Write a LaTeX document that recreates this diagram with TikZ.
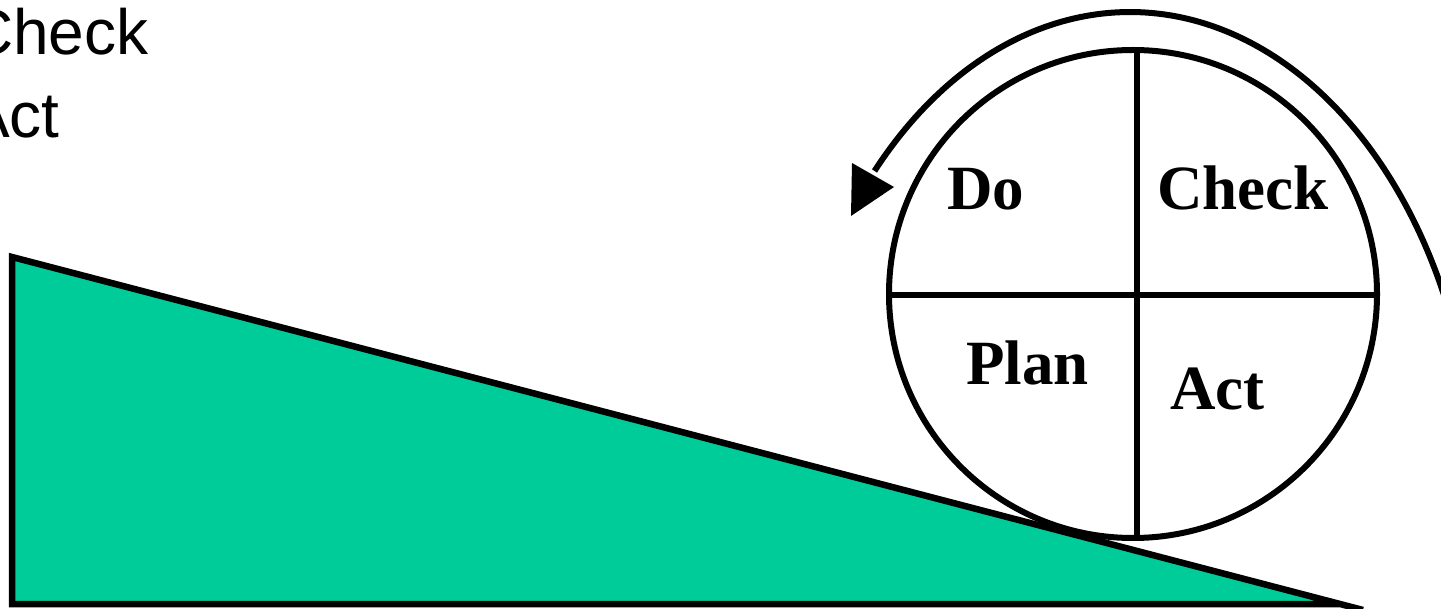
\documentclass[tikz,border=0pt]{standalone}
\usepackage{fontspec}
\setmainfont{Liberation Serif}
\newfontfamily\arialf{Liberation Sans}
\definecolor{pdcagreen}{HTML}{00CC99}
\tikzset{
  listtext/.style={anchor=base west, inner sep=0pt, font=\arialf\fontsize{64}{64}\selectfont},
  wheeltext/.style={anchor=base west, inner sep=0pt, font=\bfseries\fontsize{63}{63}\selectfont},
  outline/.style={line width=6.5pt, line join=miter},
  wheelline/.style={line width=6pt}
}
\begin{document}
\begin{tikzpicture}[x=1pt,y=-1pt]
\useasboundingbox (0,0) rectangle (1441,609);
\clip (0,0) rectangle (1441,609);
% wedge
\fill[pdcagreen] (12,257) -- (12,604) -- (1340,604) -- cycle;
\draw[outline] (1340,604) -- (12,604) -- (12,257) -- (1363,610);
% wheel
\coordinate (c) at (1133,294);
\draw[wheelline] (c) circle (244);
\draw[wheelline] (1137,50) -- (1137,538);
\draw[wheelline] (889,295) -- (1377,295);
% rotation arrow
\draw[wheelline] plot[domain=137.6:18, samples=120] ({1130+346*cos(\x)}, {500-488*sin(\x)});
\fill (852,163) -- (851,216) -- (894,187) -- cycle;
% texts
\node[listtext] (lcheck) at (-33,55) {Check};
\node[listtext] (lact) at (-33,138) {Act};
\node[wheeltext] (do) at (947,210) {Do};
\node[wheeltext] (check) at (1157,210) {Check};
\node[wheeltext] (plan) at (966,385) {Plan};
\node[wheeltext] (act) at (1170,410) {Act};
\end{tikzpicture}
\end{document}
